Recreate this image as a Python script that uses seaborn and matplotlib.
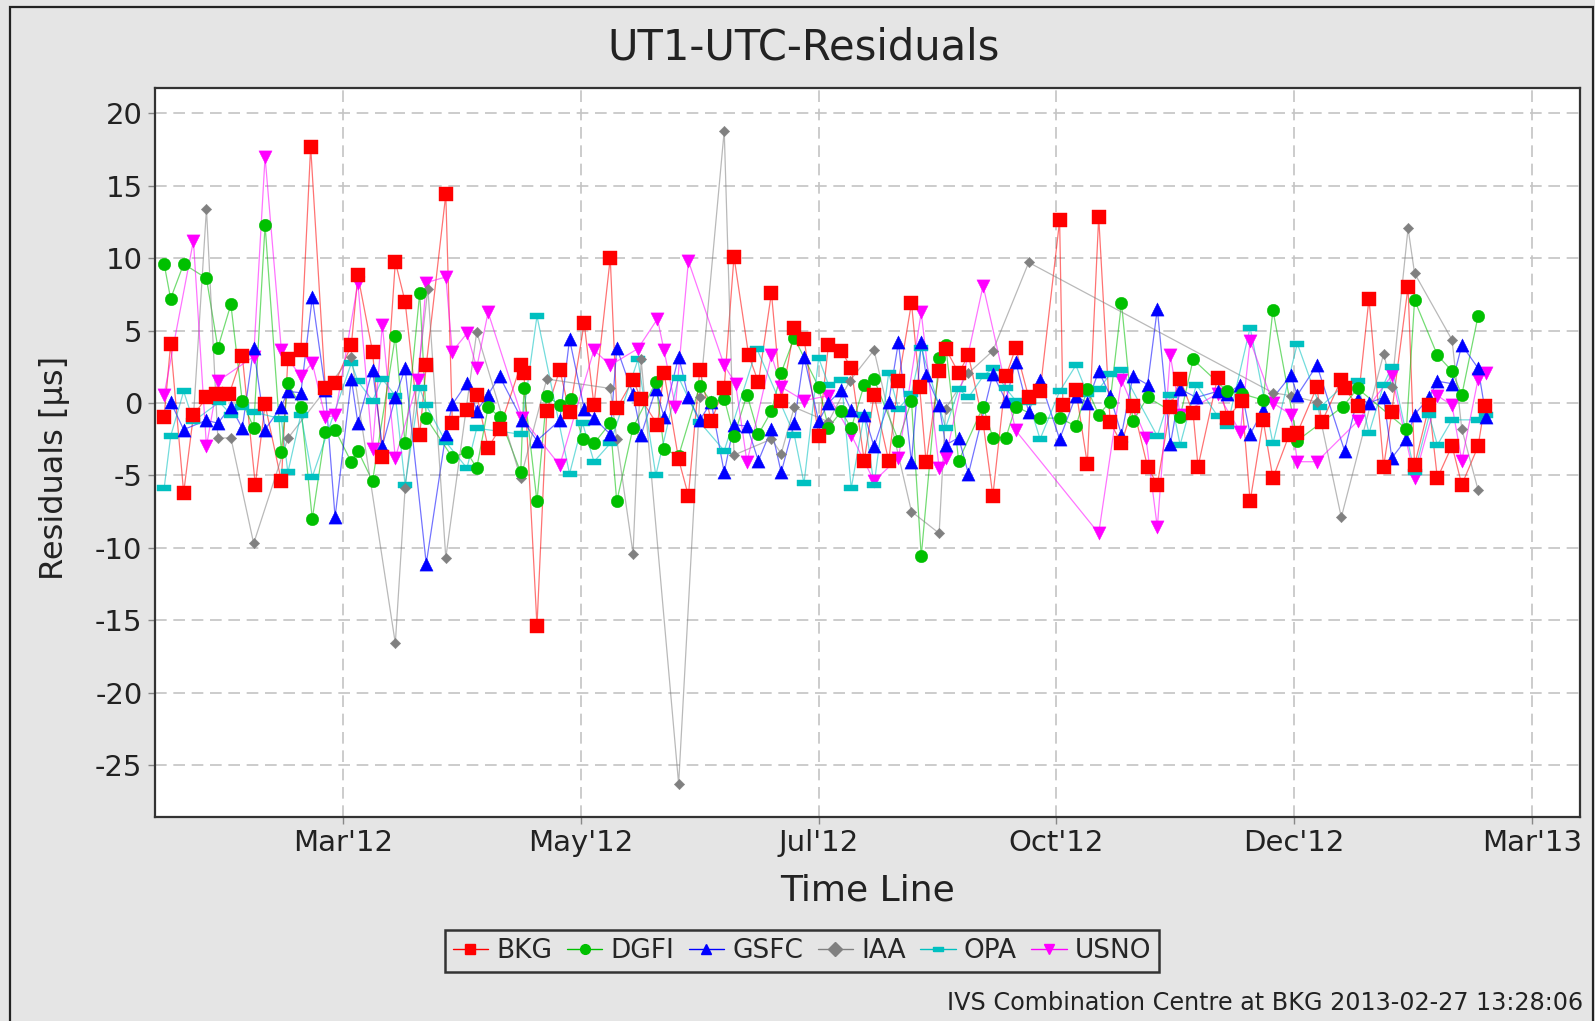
import pandas as pd
import matplotlib
matplotlib.use("Agg")
import matplotlib.pyplot as plt
import matplotlib.dates as mdates
from matplotlib.lines import Line2D
from matplotlib.patches import Rectangle
import seaborn as sns

# x values are days counted from 2012-01-01
bkg_days = [5, 7, 11, 14, 18, 21, 25, 29, 33, 36, 41, 43, 47, 50, 54.5, 57.5, 62.5, 64.5, 69, 72,
            76, 79, 83.5, 85.5, 91.5, 93.5, 98, 101, 104.5, 108, 114.5, 115.5, 119.5, 122.5, 126.5,
            129.5, 134, 137, 142, 144, 149, 151.5, 156.5, 158.5, 163, 166, 169.5, 173, 177, 180,
            184.5, 187.5, 191.5, 194.5, 198.5, 201.5, 206, 209, 213, 216, 220, 223, 227.5, 230.5,
            234.5, 237, 239, 243, 245, 249, 252, 256.5, 259.5, 263.5, 266.5, 270.5, 274, 280, 281,
            285, 288.5, 292, 295.5, 299, 302.5, 307, 310, 314, 317, 321, 322.5, 328.5, 331.5, 336,
            338.5, 342.5, 345.5, 350.5, 353, 359, 360.5, 366.5, 367.5, 371.5, 375, 379.5, 382, 387,
            389, 393.5, 396, 400.5, 403.5, 408.5, 410.5]
bkg_vals = [-0.95, 4.06, -6.2, -0.86, 0.38, 0.63, 0.63, 3.27, -5.65, -0.1, -5.4, 3.0, 3.65, 17.7,
            1.0, 1.4, 4.0, 8.8, 3.55, -3.75, 9.75, 7.0, -2.2, 2.6, 14.4, -1.4, -0.5, 0.57, -3.1,
            -1.8, 2.6, 2.06, -15.4, -0.57, 2.3, -0.63, 5.5, -0.16, 10.0, -0.38, 1.6, 0.25, -1.5,
            2.1, -3.9, -6.4, 2.3, -1.27, 1.05, 10.1, 3.3, 1.43, 7.6, 0.1, 5.14, 4.44, -2.3, 4.0,
            3.6, 2.4, -4.0, 0.54, -4.0, 1.5, 6.9, 1.1, -4.1, 2.2, 3.75, 2.06, 3.3, -1.37, -6.4,
            1.84, 3.8, 0.38, 0.8, 12.6, -0.16, 0.9, -4.2, 12.86, -1.33, -2.8, -0.2, -4.4, -5.65,
            -0.25, 1.65, -0.73, -4.4, 1.75, -1.05, 0.16, -6.8, -1.2, -5.2, -2.2, -2.06, 1.1, -1.33,
            1.6, 1.0, -0.2, 7.2, -4.4, -0.63, 8.0, -4.3, -0.16, -5.2, -2.95, -5.65, -3.0, -0.2]

dgfi_days = [5, 7, 11, 18, 21.5, 25.5, 29, 32.5, 36, 41, 43, 47, 50.5, 54.5, 57.5, 62.5, 64.5, 69,
             76, 79, 83.5, 85.5, 93.5, 98, 101, 104.5, 108, 114.5, 115.5, 119.5, 122.5, 126.5, 130,
             133.5, 137, 142, 144, 149, 156, 158.5, 163, 169.5, 173, 177, 180, 184, 187.5, 191.5,
             194.5, 198.5, 206, 209, 213, 216, 220, 223, 230.5, 234.5, 237.5, 243, 245, 249, 256.5,
             259.5, 263.5, 266.5, 274, 280, 285, 288.5, 292, 295.5, 299, 302.5, 307, 317, 321,
             331.5, 336, 342.5, 345.5, 353, 367, 371.5, 386.5, 389, 396, 400.5, 403.5, 408.5]
dgfi_vals = [9.6, 7.2, 9.6, 8.6, 3.8, 6.8, 0.1, -1.7, 12.3, -3.4, 1.37, -0.25, -8.0, -2.0, -1.84,
             -4.1, -3.3, -5.4, 4.6, -2.8, 7.6, -1.05, -3.75, -3.4, -4.5, -0.3, -0.95, -4.8, 1.0,
             -6.8, 0.5, -0.16, 0.3, -2.5, -2.8, -1.4, -6.8, -1.7, 1.43, -3.2, -3.65, 1.2, 0.06, 0.3,
             -2.3, 0.57, -2.16, -0.57, 2.1, 4.5, 1.1, -1.7, -0.57, -1.75, 1.27, 1.65, -2.6, 0.16,
             -10.6, 3.1, 4.0, -4.0, -0.25, -2.4, -2.4, -0.25, -1.05, -1.05, -1.6, 0.95, -0.8, 0.06,
             6.9, -1.27, 0.4, -0.95, 3.0, 0.8, 0.63, 0.2, 6.4, -2.6, -0.25, 1.0, -1.8, 7.1, 3.3,
             2.2, 0.54, 6.0]

gsfc_days = [7, 11, 18, 21.5, 25.5, 29, 32.5, 36, 41, 43, 47, 50.5, 54.5, 57.5, 62.5, 64.5, 69, 72,
             76, 79, 85.5, 91.5, 93.5, 98, 101, 104.5, 108, 115, 119.5, 126.5, 129.5, 134, 137,
             142, 144, 149, 151.5, 156, 158.5, 163, 166, 169.5, 173, 177, 180, 184, 187.5, 191.5,
             194.5, 198.5, 201.5, 206, 209, 213, 216, 220, 223, 227.5, 230.5, 234.5, 237.5, 239,
             243, 245, 249, 252, 259.5, 263.5, 266.5, 270.5, 274, 280, 285, 288.5, 292, 295.5,
             299, 302.5, 307, 310, 314, 317, 322, 328.5, 331.5, 335.5, 338.5, 342.5, 351, 353,
             359, 367.5, 371.5, 375, 379.5, 382, 386.5, 389, 393.5, 396, 400.5, 403.5, 408.5, 411]
gsfc_vals = [0.06, -1.84, -1.2, -1.4, -0.25, -1.75, 3.8, -1.84, -0.25, 0.8, 0.7, 7.3, 0.9, -7.9,
             1.65, -1.4, 2.3, -3.0, 0.38, 2.4, -11.1, -2.16, -0.1, 1.37, -0.54, 0.57, 1.84, -1.2,
             -2.6, -1.2, 4.4, -0.4, -1.05, -2.16, 3.8, 0.6, -2.2, 0.95, -0.95, 3.2, 0.38, -1.2,
             0.06, -4.8, -1.5, -1.6, -4.0, -1.8, -4.8, -1.4, 3.2, -1.27, 0.0, 0.9, -0.5, -0.8,
             -3.0, 0.06, 4.2, -4.1, 4.2, 1.9, -0.16, -2.9, -2.4, -4.9, 2.0, 0.16, 2.86, -0.63, 1.6,
             -2.5, 0.5, 0.0, 2.2, 0.5, -2.2, 1.84, 1.27, 6.5, -2.86, 0.95, 0.38, 0.8, 0.63, 1.27,
             -2.16, -0.5, 1.9, 0.54, 2.6, -3.3, 0.3, 0.0, 0.38, -3.8, -2.5, -0.8, 0.38, 1.5, 1.33,
             4.0, 2.4, -1.0]

iaa_days = [14, 18, 21.5, 25.5, 32.5, 43, 62.5, 76, 79, 86, 91.5, 101, 114.5, 122.5, 142, 144,
            149, 151.5, 163, 169.5, 177, 180, 191.5, 194.5, 198.5, 209, 215.5, 223, 234.5, 243,
            245, 252, 259.5, 270.5, 345.5, 351, 359, 366.5, 379.5, 382, 387, 389, 400.5, 403.5,
            408.5]
iaa_vals = [-1.0, 13.4, -2.44, -2.4, -9.7, -2.44, 3.2, -16.6, -5.9, 7.9, -10.7, 4.9, -5.2, 1.65,
            1.0, -2.5, -10.4, 3.0, -26.3, 0.38, 18.8, -3.6, -2.5, -3.5, -0.3, -1.3, 1.5, 3.65,
            -7.5, -9.0, -0.4, 2.06, 3.6, 9.7, 0.7, 0.5, 0.06, -7.9, 3.4, 1.1, 12.06, 8.95, 4.35,
            -1.8, -6.0]

opa_days = [5, 7, 11, 14, 22, 25.5, 29, 32.5, 41, 43, 47, 50.5, 62.5, 64.5, 69, 72, 76, 79, 83.5,
            85.5, 91.5, 98, 101, 114.5, 119.5, 129.5, 133.5, 137, 142, 150.5, 156, 163, 169.5,
            177, 187, 198.5, 201.5, 206, 209, 213, 216, 220, 223, 227.5, 230.5, 234.5, 237.5, 245,
            249, 252, 256.5, 259.5, 263.5, 266.5, 270.5, 274, 280, 285, 288.5, 292, 295.5, 299,
            310, 314, 317, 322, 328.5, 331.5, 338.5, 345.5, 353, 360, 367.5, 371.5, 375, 379.5,
            382, 389, 393.5, 396, 400.5, 408.5, 411]
opa_vals = [-5.9, -2.3, 0.8, -1.27, 0.06, -0.8, -0.3, -0.63, -1.1, -4.8, -0.8, -5.1, 2.76, 1.5,
            0.16, 1.65, 0.5, -5.65, 1.0, -0.16, -2.7, -4.5, -1.75, -2.16, 6.0, -4.9, -1.4, -4.06,
            -2.8, 3.0, -5.0, 1.75, -1.33, -3.3, 3.75, -2.2, -5.55, 3.1, 1.27, 1.6, -5.9, -0.8,
            -5.7, 2.06, -0.4, 0.63, 3.8, -1.7, 0.95, 0.38, 1.84, 2.4, 1.0, 0.16, 0.06, -2.5, 0.8,
            2.6, 0.63, 0.95, 1.97, 2.3, -2.3, 0.54, -2.9, 1.27, -0.9, -1.6, 5.2, -2.8, 4.1, -0.3,
            1.27, 1.5, -2.1, 1.27, 2.5, -4.8, -0.86, -2.9, -1.17, -1.17, -0.8]

usno_days = [5, 14, 18, 21.5, 32.5, 36, 41, 47, 50.5, 54.5, 57.5, 64.5, 69, 72, 76, 83, 85.5, 91.5,
             93.5, 98, 101, 104.5, 115, 126.5, 137, 142, 150.5, 156.5, 158.5, 162, 166, 177, 180.5,
             184, 191.5, 194.5, 201.5, 209, 216, 223, 230.5, 237.5, 243, 245, 256.5, 266.5, 292,
             299, 306.5, 310, 314, 317, 328.5, 335.5, 338.5, 345.5, 351, 353, 359, 371.5, 382, 389,
             396, 400.5, 403.5, 408.5, 411]
usno_vals = [0.57, 11.2, -3.0, 1.5, 3.2, 17.0, 3.65, 1.84, 2.76, -1.0, -0.86, 8.25, -3.2, 5.4, -3.8,
             1.6, 8.3, 8.7, 3.55, 4.8, 2.44, 6.25, -1.05, -4.3, 3.65, 2.6, 3.75, 5.8, 3.65, -0.25,
             9.8, 2.6, 1.33, -4.1, 3.3, 1.1, 0.16, 0.5, -2.2, -5.4, -3.8, 6.25, -4.5, -3.8, 8.1,
             -1.9, -9.0, 1.6, -2.4, -8.6, 3.3, -0.8, 0.63, -2.0, 4.3, 0.0, -0.8, -4.06, -4.06,
             -1.27, 1.9, -5.2, 0.5, -0.16, -4.0, 1.65, 2.1]

tick_dates = ["2012-03-01", "2012-05-13", "2012-07-25", "2012-10-06", "2012-12-18", "2013-03-01"]
tick_labels = ["Mar'12", "May'12", "Jul'12", "Oct'12", "Dec'12", "Mar'13"]
y_ticks = [-25, -20, -15, -10, -5, 0, 5, 10, 15, 20]

BASE = pd.Timestamp("2012-01-01")
BG = "#e5e5e5"
OPA_MARK = [(-1, -0.38), (1, -0.38), (1, 0.38), (-1, 0.38), (-1, -0.38)]

series = [
    ("BKG", bkg_days, bkg_vals, "#ff0000", "s", 9.6),
    ("DGFI", dgfi_days, dgfi_vals, "#00c000", "o", 9.0),
    ("GSFC", gsfc_days, gsfc_vals, "#0000ff", "^", 9.5),
    ("IAA", iaa_days, iaa_vals, "#808080", "D", 5.3),
    ("OPA", opa_days, opa_vals, "#00c0c0", OPA_MARK, 9.5),
    ("USNO", usno_days, usno_vals, "#ff00ff", "v", 9.5),
]


def to_dates(days):
    return BASE + pd.to_timedelta(pd.Series(days, dtype=float), unit="D")


sns.set_style("white")
plt.rcParams["font.family"] = ["DejaVu Sans"]
plt.rcParams["axes.unicode_minus"] = False

fig = plt.figure(figsize=(15.95, 10.21), dpi=100, facecolor=BG)
W, H = 1595, 1021
ax = fig.add_axes([155 / W, 1 - 816.7 / H, (1580 - 155) / W, (816.7 - 88.5) / H])
ax.set_facecolor("white")

n = len(series)
# lines first, then all markers on top (first series drawn last)
for name, days, vals, color, marker, ms in series:
    sns.lineplot(x=to_dates(days), y=vals, ax=ax, color=color, lw=0.9, alpha=0.55,
                 estimator=None, sort=False, legend=False, zorder=2)
for i, (name, days, vals, color, marker, ms) in enumerate(series):
    sns.scatterplot(x=to_dates(days), y=vals, ax=ax, color=color, marker=marker, s=ms ** 2,
                    edgecolor=color, linewidth=0.3, legend=False, zorder=3 + n - i)

ax.set_xlim(BASE + pd.Timedelta(days=2.2), BASE + pd.Timedelta(days=439.8))
ax.set_ylim(-28.57, 21.71)
ax.set_xticks(mdates.date2num(pd.to_datetime(tick_dates)))
ax.set_xticklabels(tick_labels)
ax.set_yticks(y_ticks)
ax.set_yticklabels([str(v) for v in y_ticks])

ax.grid(True, color="#c4c4c4", linestyle=(0, (7, 4)), lw=1.2)
ax.tick_params(axis="both", labelsize=21, length=5, width=1, color="#888888",
               labelcolor="#222222", pad=4, direction="out", bottom=True, left=True)
for sp in ax.spines.values():
    sp.set_color("#333333")
    sp.set_linewidth(1.6)

ax.set_xlabel("Time Line", fontsize=26, color="#222222", labelpad=12)
ax.set_ylabel("")
fig.text(55 / W, 1 - 468 / H, "Residuals [\u00b5s]", rotation=90, ha="center", va="center",
         fontsize=23, color="#222222")
fig.text(804 / W, 1 - 47 / H, "UT1-UTC-Residuals", ha="center", va="center",
         fontsize=30, color="#222222")
fig.text(1583 / W, 1 - 1003 / H, "IVS Combination Centre at BKG 2013-02-27 13:28:06",
         ha="right", va="center", fontsize=17.2, color="#222222")

handles = [Line2D([], [], color=c, lw=1.0, marker=m, markersize=7,
                  markerfacecolor=c, markeredgecolor=c) for _, _, _, c, m, _ in series]
leg = fig.legend(handles, [s[0] for s in series], loc="center",
                 bbox_to_anchor=(802 / W, 1 - 951 / H), ncol=6, fontsize=19,
                 frameon=True, fancybox=False, edgecolor="#333333", facecolor=BG,
                 framealpha=1, handlelength=1.35, handletextpad=0.3, columnspacing=0.55,
                 borderpad=0.3, borderaxespad=0)
leg.get_frame().set_linewidth(1.8)

fig.patches.append(Rectangle((10 / W, -0.05), (1593 - 10) / W, 1.05 - 7 / H,
                             transform=fig.transFigure, fill=False, edgecolor="#222222",
                             lw=1.6))

fig.savefig("out.png", dpi=100, facecolor=BG)
